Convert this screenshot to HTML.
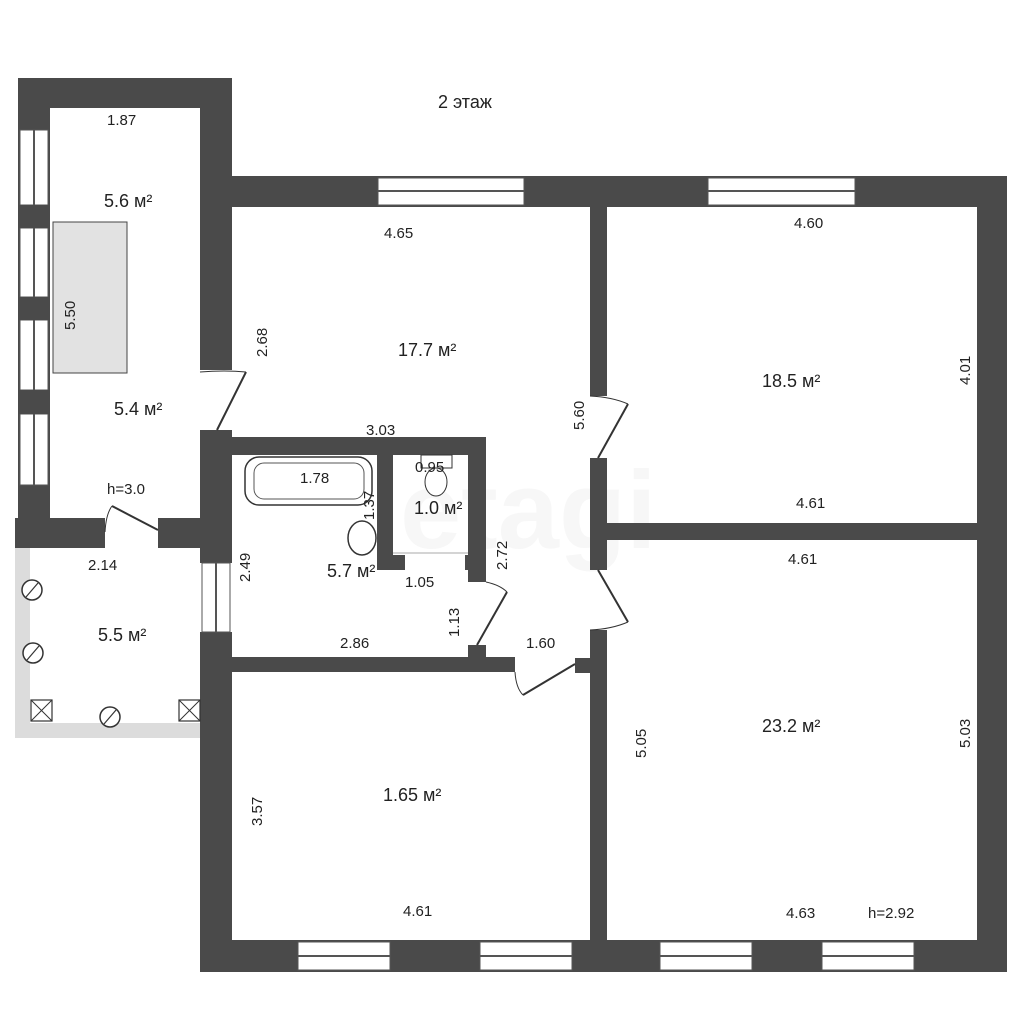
<!DOCTYPE html>
<html><head><meta charset="utf-8"><style>
html,body{margin:0;padding:0;background:#fff;}
svg{display:block}
text{font-family:"Liberation Sans","DejaVu Sans",sans-serif;fill:#222}
.d{font-size:15px}
.a{font-size:18px}
</style></head><body>
<svg width="1024" height="1024" viewBox="0 0 1024 1024" xmlns="http://www.w3.org/2000/svg">
<rect width="1024" height="1024" fill="#fff"/>
<text x="400" y="548" font-size="110" style="fill:#f7f7f7;font-weight:bold">etagi</text>
<rect x="15" y="548" width="186" height="190" fill="#dcdcdc"/>
<rect x="30" y="548" width="171" height="175" fill="#fff"/>
<g fill="#4a4a4a">
<rect x="18" y="78" width="214" height="30"/>
<rect x="18" y="78" width="32" height="470"/>
<rect x="200" y="78" width="32" height="292"/>
<rect x="200" y="430" width="32" height="133"/>
<rect x="15" y="518" width="90" height="30"/>
<rect x="158" y="518" width="74" height="30"/>
<rect x="232" y="176" width="775" height="31"/>
<rect x="977" y="176" width="30" height="796"/>
<rect x="200" y="940" width="807" height="32"/>
<rect x="200" y="632" width="32" height="340"/>
<rect x="590" y="207" width="17" height="189"/>
<rect x="590" y="458" width="17" height="112"/>
<rect x="590" y="630" width="17" height="310"/>
<rect x="575" y="658" width="32" height="15"/>
<rect x="607" y="523" width="370" height="17"/>
<rect x="232" y="437" width="254" height="18"/>
<rect x="468" y="437" width="18" height="145"/>
<rect x="465" y="555" width="8" height="15"/>
<rect x="468" y="645" width="18" height="27"/>
<rect x="232" y="657" width="283" height="15"/>
<rect x="377" y="455" width="16" height="115"/>
<rect x="377" y="555" width="28" height="15"/>
</g>
<g fill="#fff" stroke="#555" stroke-width="1">
<rect x="20" y="130" width="28" height="75"/><rect x="20" y="228" width="28" height="69"/>
<rect x="20" y="320" width="28" height="70"/><rect x="20" y="414" width="28" height="71"/>
<rect x="202" y="563" width="28" height="69"/>
<rect x="378" y="178" width="146" height="27"/><rect x="708" y="178" width="147" height="27"/>
<rect x="298" y="942" width="92" height="28"/><rect x="480" y="942" width="92" height="28"/>
<rect x="660" y="942" width="92" height="28"/><rect x="822" y="942" width="92" height="28"/>
</g>
<g stroke="#555" stroke-width="2">
<line x1="34" y1="130" x2="34" y2="485"/><line x1="216" y1="563" x2="216" y2="632"/>
<line x1="378" y1="191" x2="524" y2="191"/><line x1="708" y1="191" x2="855" y2="191"/>
<line x1="298" y1="956" x2="390" y2="956"/><line x1="480" y1="956" x2="572" y2="956"/>
<line x1="660" y1="956" x2="752" y2="956"/><line x1="822" y1="956" x2="914" y2="956"/>
</g>
<g fill="#4a4a4a"><rect x="18" y="205" width="32" height="23"/><rect x="18" y="297" width="32" height="23"/><rect x="18" y="390" width="32" height="24"/></g>
<g fill="none" stroke="#333" stroke-width="2">
<line x1="217" y1="430" x2="246" y2="372"/><path d="M200 372 Q225 370 246 372" stroke-width="1"/>
<line x1="112" y1="506" x2="158" y2="530"/><path d="M105 532 Q106 514 112 506" stroke-width="1"/>
<line x1="598" y1="458" x2="628" y2="404"/><path d="M590 396 Q612 397 628 404" stroke-width="1"/>
<line x1="598" y1="570" x2="628" y2="622"/><path d="M590 630 Q612 629 628 622" stroke-width="1"/>
<line x1="477" y1="645" x2="507" y2="592"/><path d="M486 582 Q500 585 507 592" stroke-width="1"/>
<line x1="575" y1="664" x2="523" y2="695"/><path d="M515 672 Q516 688 523 695" stroke-width="1"/>
</g>
<line x1="393" y1="553" x2="468" y2="553" stroke="#aaa"/>
<rect x="53" y="222" width="74" height="151" fill="#e2e2e2" stroke="#444"/>
<rect x="245" y="457" width="127" height="48" rx="14" fill="#fff" stroke="#333" stroke-width="1.5"/>
<rect x="254" y="463" width="110" height="36" rx="10" fill="#fff" stroke="#555"/>
<ellipse cx="362" cy="538" rx="14" ry="17" fill="#fff" stroke="#333" stroke-width="1.5"/>
<rect x="421" y="455" width="31" height="13" fill="#fff" stroke="#333"/>
<ellipse cx="436" cy="482" rx="11" ry="14" fill="#fff" stroke="#333"/>
<g fill="#fff" stroke="#333" stroke-width="1.5">
<circle cx="32" cy="590" r="10"/><circle cx="33" cy="653" r="10"/><circle cx="110" cy="717" r="10"/>
</g>
<g stroke="#333" stroke-width="1.2"><line x1="26" y1="597" x2="38" y2="583"/><line x1="27" y1="660" x2="39" y2="646"/><line x1="104" y1="724" x2="116" y2="710"/></g>
<g fill="#fff" stroke="#333" stroke-width="1.2">
<rect x="31" y="700" width="21" height="21"/><rect x="179" y="700" width="21" height="21"/>
</g>
<g stroke="#333"><line x1="31" y1="700" x2="52" y2="721"/><line x1="52" y1="700" x2="31" y2="721"/><line x1="179" y1="700" x2="200" y2="721"/><line x1="200" y1="700" x2="179" y2="721"/></g>
<text x="438" y="108" class="a">2 этаж</text>
<text x="107" y="125" class="d">1.87</text>
<text x="104" y="207" class="a">5.6 м²</text>
<text x="114" y="415" class="a">5.4 м²</text>
<text x="107" y="494" class="d">h=3.0</text>
<text x="88" y="570" class="d">2.14</text>
<text x="98" y="641" class="a">5.5 м²</text>
<text x="384" y="238" class="d">4.65</text>
<text x="398" y="356" class="a">17.7 м²</text>
<text x="366" y="435" class="d">3.03</text>
<text x="794" y="228" class="d">4.60</text>
<text x="762" y="387" class="a">18.5 м²</text>
<text x="796" y="508" class="d">4.61</text>
<text x="788" y="564" class="d">4.61</text>
<text x="762" y="732" class="a">23.2 м²</text>
<text x="383" y="801" class="a">1.65 м²</text>
<text x="403" y="916" class="d">4.61</text>
<text x="786" y="918" class="d">4.63</text>
<text x="868" y="918" class="d">h=2.92</text>
<text x="300" y="483" class="d">1.78</text>
<text x="415" y="472" class="d">0.95</text>
<text x="414" y="514" class="a">1.0 м²</text>
<text x="327" y="577" class="a">5.7 м²</text>
<text x="405" y="587" class="d">1.05</text>
<text x="340" y="648" class="d">2.86</text>
<text x="526" y="648" class="d">1.60</text>
<g class="d">
<text transform="translate(75,330) rotate(-90)" class="d">5.50</text>
<text transform="translate(267,357) rotate(-90)" class="d">2.68</text>
<text transform="translate(584,430) rotate(-90)" class="d">5.60</text>
<text transform="translate(970,385) rotate(-90)" class="d">4.01</text>
<text transform="translate(250,582) rotate(-90)" class="d">2.49</text>
<text transform="translate(507,570) rotate(-90)" class="d">2.72</text>
<text transform="translate(459,637) rotate(-90)" class="d">1.13</text>
<text transform="translate(374,520) rotate(-90)" class="d">1.37</text>
<text transform="translate(646,758) rotate(-90)" class="d">5.05</text>
<text transform="translate(970,748) rotate(-90)" class="d">5.03</text>
<text transform="translate(262,826) rotate(-90)" class="d">3.57</text>
</g>
</svg>
</body></html>
